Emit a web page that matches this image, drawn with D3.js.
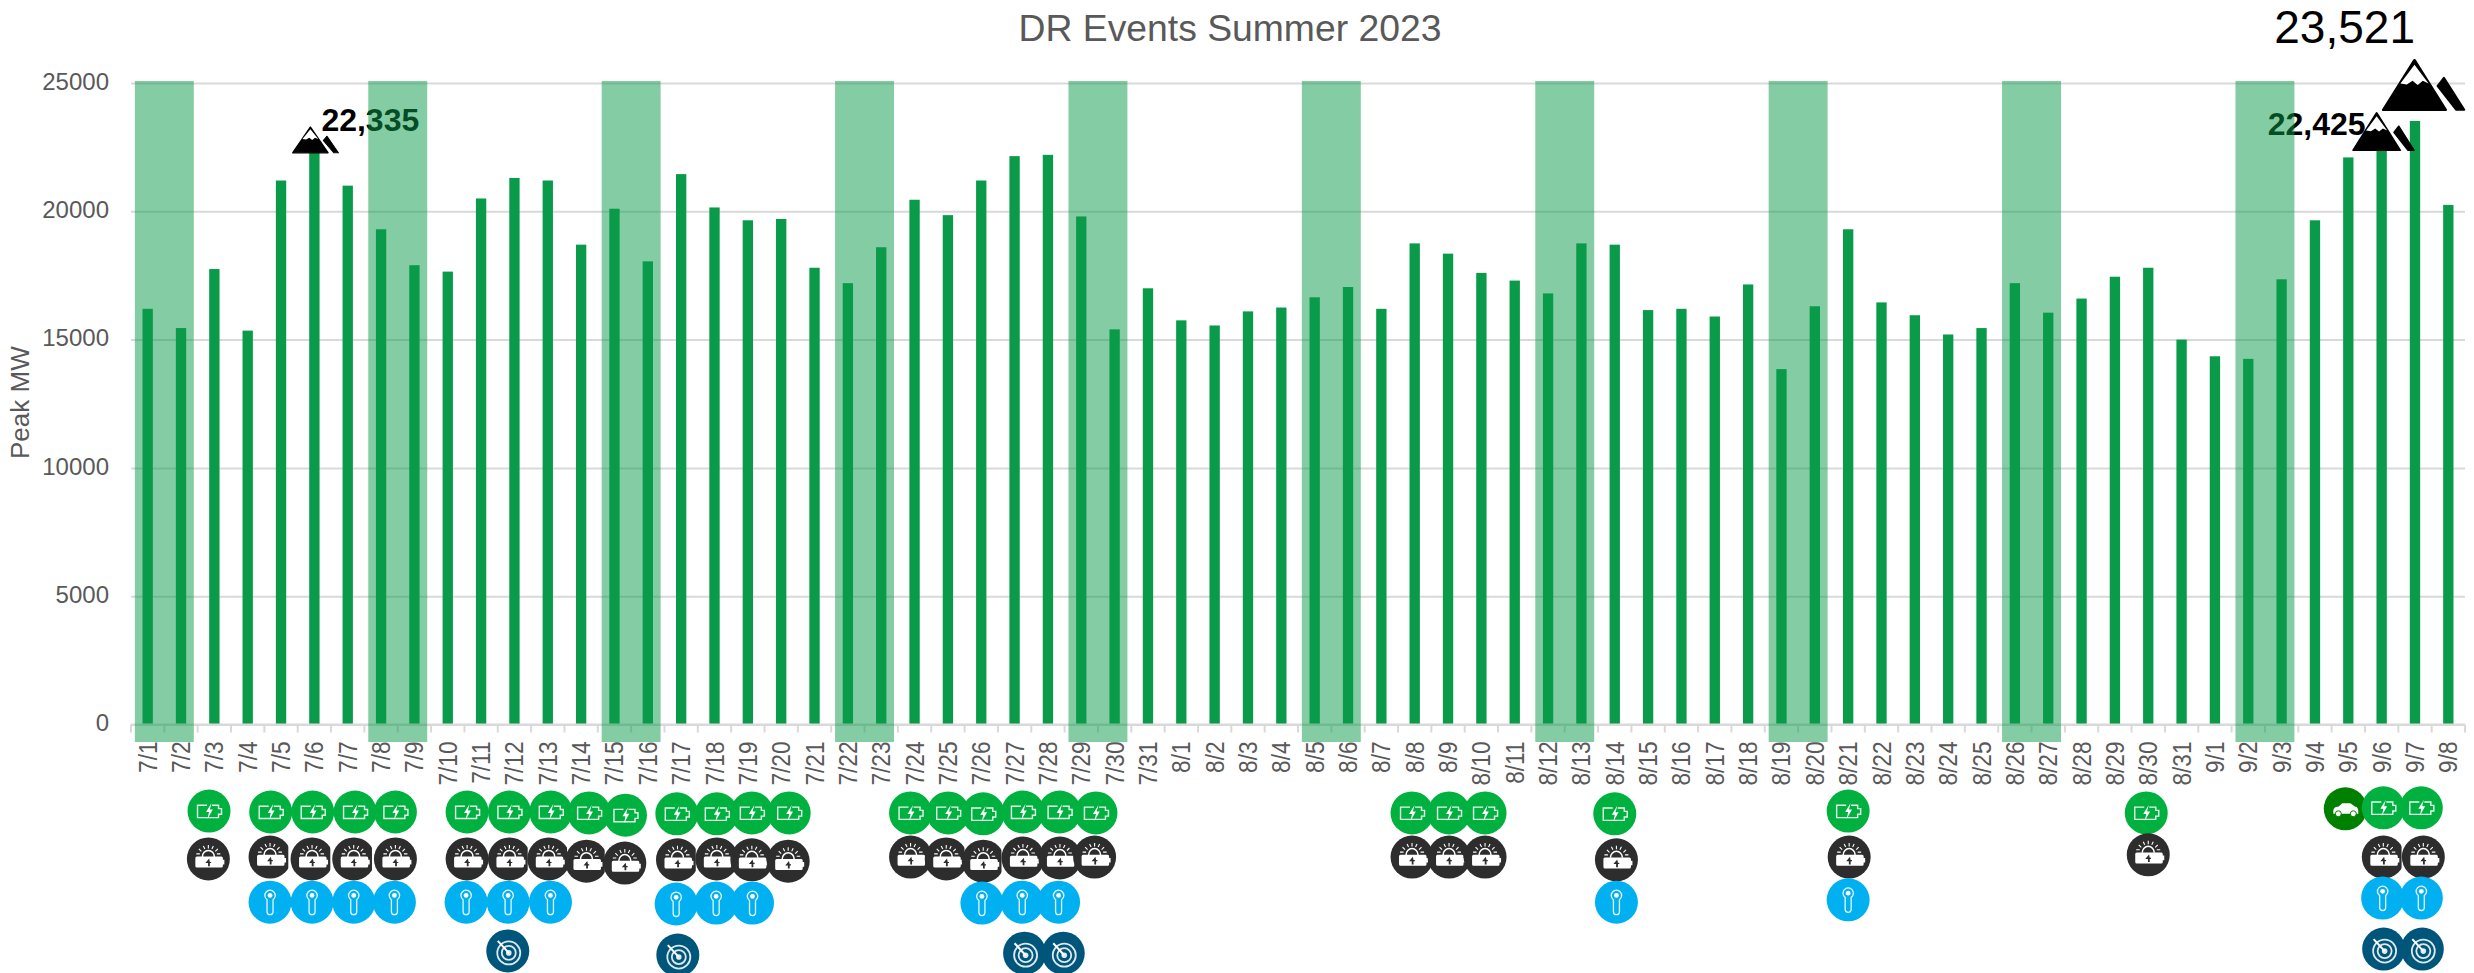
<!DOCTYPE html>
<html><head><meta charset="utf-8">
<script src="https://cdn.jsdelivr.net/npm/d3@7"></script>
<style>html,body{margin:0;background:#fff}svg{display:block}text{font-family:"Liberation Sans",Arial,sans-serif}</style>
</head><body><svg id="c" width="2474" height="973"></svg>
<script>
const chartTitle = "DR Events Summer 2023";
const yAxisTitle = "Peak MW";
const dates = ["7/1","7/2","7/3","7/4","7/5","7/6","7/7","7/8","7/9","7/10","7/11","7/12","7/13","7/14","7/15","7/16","7/17","7/18","7/19","7/20","7/21","7/22","7/23","7/24","7/25","7/26","7/27","7/28","7/29","7/30","7/31","8/1","8/2","8/3","8/4","8/5","8/6","8/7","8/8","8/9","8/10","8/11","8/12","8/13","8/14","8/15","8/16","8/17","8/18","8/19","8/20","8/21","8/22","8/23","8/24","8/25","8/26","8/27","8/28","8/29","8/30","8/31","9/1","9/2","9/3","9/4","9/5","9/6","9/7","9/8"];
const peakMW = [16200,15450,17750,15350,21200,22335,21000,19300,17900,17650,20500,21300,21200,18700,20100,18050,21450,20150,19650,19700,17800,17200,18600,20450,19850,21200,22150,22200,19800,15400,17000,15750,15550,16100,16250,16650,17050,16200,18750,18350,17600,17300,16800,18750,18700,16150,16200,15900,17150,13850,16300,19300,16450,15950,15200,15450,17200,16050,16600,17450,17800,15000,14350,14250,17350,19650,22100,22425,23521,20250];
const yTicks = [0,5000,10000,15000,20000,25000];
const weekendBands = [["7/1","7/2"],["7/8","7/9"],["7/15","7/16"],["7/22","7/23"],["7/29","7/30"],["8/5","8/6"],["8/12","8/13"],["8/19","8/20"],["8/26","8/27"],["9/2","9/3"]];
const peakCallouts = [
  {date:"7/6", label:"22,335", big:false},
  {date:"9/6", label:"22,425", big:false},
  {date:"9/7", label:"23,521", big:true}
];
// event icons: [day position along the axis, row, cropped]
const batteryIcons = [[1.84,-.02],[3.69,0],[4.95,0],[6.22,0],[7.43,0],[9.58,0],[10.85,0],[12.09,0],[13.24,.02],[14.33,.07],[15.87,.04],[17.07,.04],[18.12,.02],[19.24,.02],[22.88,.02],[24.01,.02],[25.06,.04],[26.25,0],[27.35,0],[28.44,.02],[37.92,.02],[39.03,.02],[40.11,.02],[44.0,.04],[51.0,-.02],[59.94,.02]];
const carIcons = [[65.91,-.07]];
const latePeakBatteryIcons = [[67.05,-.09],[68.19,-.09]];
const solarIcons = [[1.82,1.02],[3.67,.98,1],[4.93,1.02,1],[6.18,1.02,1],[7.43,1.02],[9.58,1.02],[10.85,1.02,1],[12.03,1.02,1],[13.16,1.07,1],[14.31,1.11],[15.89,1.04,1],[17.07,1.02,1],[18.12,1.04,1],[19.21,1.07],[22.88,.98,1],[23.95,1.02,1],[25.06,1.07,1],[26.25,1,1],[27.36,1,1],[28.40,.98],[37.92,.98],[39.03,.98,1],[40.11,.98],[44.05,1.04],[51.03,.98],[60.0,.93],[67.05,.98,1],[68.25,.98]];
const thermoIcons = [[3.67,1.96],[4.93,1.96],[6.18,1.96],[7.40,1.96],[9.55,1.96],[10.81,1.96],[12.08,1.96],[15.85,2],[17.05,1.98],[18.14,1.98],[25.02,1.98],[26.23,1.96],[27.32,1.96],[44.05,1.96],[51.0,1.91],[67.03,1.87],[68.19,1.87]];
const targetIcons = [[10.80,3.02],[15.90,3.11],[26.30,3.07],[27.46,3.07],[67.06,2.98],[68.22,2.98]];

const grey="#595959", gridCol="#D9D9D9", barCol="#0A9B4A";
const svg=d3.select("#c");
const x=d3.scaleBand().domain(dates).range([131,2465]).paddingInner(.69).paddingOuter(.345);
const y=d3.scaleLinear().domain([0,25000]).range([724.5,83]);
const dayX=d3.scaleLinear().domain([0,dates.length-1]).range([x(dates[0])+x.bandwidth()/2,x(dates[dates.length-1])+x.bandwidth()/2]);
const rowY=d3.scaleLinear().domain([0,3]).range([812,950]);

svg.append("text").attr("x",1230).attr("y",41).attr("text-anchor","middle").attr("font-size",37.3).attr("fill",grey).text(chartTitle);
svg.append("text").attr("transform","translate(29,459) rotate(-90)").attr("text-anchor","start").attr("font-size",26).attr("fill",grey).text(yAxisTitle);

const gy=svg.append("g").attr("transform","translate(131,0)").call(d3.axisLeft(y).tickValues(yTicks).tickFormat(d3.format("d")).tickSize(-2334));
gy.select(".domain").remove();
gy.selectAll("line").attr("stroke",gridCol).attr("stroke-width",2);
gy.selectAll("text").attr("x",-22).attr("dy","0.26em").attr("font-size",24).attr("fill",grey).attr("font-family",'"Liberation Sans",Arial,sans-serif');

svg.append("g").selectAll("rect").data(dates).join("rect")
  .attr("x",d=>x(d)).attr("width",x.bandwidth()).attr("y",(d,i)=>y(peakMW[i])).attr("height",(d,i)=>y(0)-y(peakMW[i])).attr("fill",barCol);

const gx=svg.append("g").attr("transform",`translate(0,${y(0)})`).call(d3.axisBottom(x).tickSize(0).tickSizeOuter(0));
gx.select(".domain").attr("stroke",gridCol).attr("stroke-width",2).attr("d","M131,0H2465");
gx.selectAll("text").attr("font-size",25).attr("fill",grey).attr("font-family",'"Liberation Sans",Arial,sans-serif')
  .attr("transform","translate(0,17) rotate(-90) scale(.905,1)").attr("text-anchor","end").attr("x",0).attr("y",0).attr("dy","0.36em").attr("dx",0);
svg.append("g").selectAll("line").data(d3.range(dates.length+1)).join("line")
  .attr("x1",i=>131+i*x.step()).attr("x2",i=>131+i*x.step()).attr("y1",y(0)).attr("y2",y(0)+8).attr("stroke",gridCol).attr("stroke-width",2);

// callouts sit below the translucent bands
function mountain(g){
  g.append("path").attr("d","M50,2L99,98H1Z").attr("fill","#000").attr("stroke","#000").attr("stroke-width",4).attr("stroke-linejoin","round");
  g.append("path").attr("d","M50,11L72,47L63,42L55,50L47,42L38,49L28,47Z").attr("fill","#fff");
  g.append("path").attr("d","M96,36L128,98H115L86,52Z").attr("fill","#000").attr("stroke","#000").attr("stroke-width",3).attr("stroke-linejoin","round");
}
peakCallouts.forEach((p,k)=>{
  const v=peakMW[dates.indexOf(p.date)], cx=x(p.date)+x.bandwidth()/2, top=y(v);
  if(p.big){
    svg.append("text").attr("x",cx).attr("y",43).attr("text-anchor","end").attr("font-size",46).attr("fill","#000").text(p.label);
    const g=svg.append("g").attr("transform",`translate(${cx-32.5},${top-62}) scale(.64,.52)`);mountain(g);
  } else {
    const t=svg.append("text").attr("font-size",32).attr("font-weight","bold").attr("fill","#000").text(p.label);
    if(k===0){t.attr("x",cx+7).attr("y",131);} else {t.attr("x",cx-16).attr("y",135).attr("text-anchor","end");}
    const g=svg.append("g").attr("transform",`translate(${cx-(k===0?22:29)},${top-(k===0?25:37)}) scale(${k===0?.36:.48},${k===0?.27:.39})`);mountain(g);
  }
});

svg.append("g").selectAll("rect").data(weekendBands).join("rect")
  .attr("x",d=>x(d[0])+x.bandwidth()/2-12.8).attr("width",d=>x(d[1])-x(d[0])+25.6).attr("y",81).attr("height",661)
  .attr("fill",barCol).attr("fill-opacity",.5);

// icons
const R=21.5, defs=svg.append("defs");
defs.append("clipPath").attr("id","crop").append("rect").attr("x",-R-2).attr("y",-R-2).attr("width",R*1.85+2).attr("height",2*R+4);
function batteryGlyph(g){
  g.append("path").attr("d","M-2,-5.8H-11.5V6.5H2M3,-5.8H9.5V-2.5H12.5V3.2H9.5V6.5H0").attr("fill","none").attr("stroke","#fff").attr("stroke-width",1.4).attr("opacity",.9);
  g.append("path").attr("d","M2.5,-8L-3,1H0L-1.5,8L3.8,-1.5H0.8Z").attr("fill","#fff");
}
function solarGlyph(g){
  g.append("path").attr("d","M-6,-2A6,6.5 0 0 1 6,-2").attr("fill","#2D2D2D").attr("stroke","#fff").attr("stroke-width",1.5);
  g.append("path").attr("d","M0,-14V-10.5M-5,-13L-3.5,-10M5,-13L3.5,-10M-9.5,-10L-7,-7.5M9.5,-10L7,-7.5M-12,-5H-8.5M12,-5H8.5").attr("stroke","#fff").attr("stroke-width",1.1);
  g.append("path").attr("d","M-11.5,-2.3H13A1.5,1.5 0 0 1 14.5,-.8V.8H16V5.5H14.5V7.2A1.5,1.5 0 0 1 13,8.7H-11.5A1.5,1.5 0 0 1 -13,7.2V-.8A1.5,1.5 0 0 1 -11.5,-2.3Z").attr("fill","#fff");
  g.append("path").attr("d","M.8,-.3L-3,4.2H-.3V7.3H1.5V4.2H2.8V3H1.5Z").attr("fill","#2D2D2D");
}
function thermoGlyph(g){
  g.append("path").attr("d","M-3,-2.5V9.5A3,3 0 0 0 3,9.5V-2.5A5.2,5.2 0 1 0 -3,-2.5Z").attr("fill","none").attr("stroke","#fff").attr("stroke-width",1.3).attr("opacity",.9);
  g.append("circle").attr("cy",-6.7).attr("r",2.4).attr("fill","#fff");
}
function targetGlyph(g){
  g.selectAll("circle.ring").data([11.5,7]).join("circle").attr("class","ring").attr("cx",1).attr("cy",2).attr("r",d=>d).attr("fill","none").attr("stroke","#DDE9EE").attr("stroke-width",1.8);
  g.append("circle").attr("cx",1).attr("cy",2).attr("r",2.8).attr("fill","#DDE9EE");
  g.append("path").attr("d","M-10,-10L1,2").attr("stroke","#fff").attr("stroke-width",2);
}
function carGlyph(g){
  g.append("path").attr("d","M-12,3C-12,-1 -10,-2 -7,-2L-3,-5.5H5L10,-2C12,-2 13,0 13,3V5H-12Z").attr("fill","#fff");
  g.selectAll("circle.wheel").data([-7,8]).join("circle").attr("class","wheel").attr("cx",d=>d).attr("cy",5).attr("r",3).attr("fill","#fff").attr("stroke","#008000");
}
function drawIcons(list,color,glyph){
  const s=svg.append("g");
  list.forEach(d=>{
    const outer=s.append("g").attr("transform",`translate(${dayX(d[0])},${rowY(d[1])})`);
    if(d[2]) outer.attr("clip-path","url(#crop)");
    outer.append("circle").attr("r",R).attr("fill",color);
    glyph(outer);
  });
}
drawIcons(batteryIcons,"#00B140",batteryGlyph);
drawIcons(carIcons,"#008000",carGlyph);
drawIcons(latePeakBatteryIcons,"#00B140",batteryGlyph);
drawIcons(solarIcons,"#2D2D2D",solarGlyph);
drawIcons(thermoIcons,"#00B0F0",thermoGlyph);
drawIcons(targetIcons,"#00567A",targetGlyph);
</script></body></html>
